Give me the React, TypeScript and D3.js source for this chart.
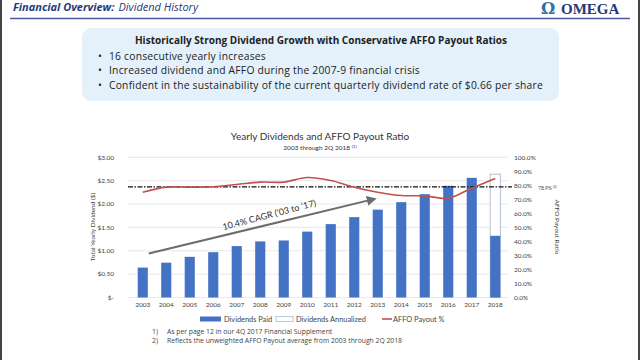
import React from 'react';
import * as d3 from 'd3';

const years = ['2003','2004','2005','2006','2007','2008','2009','2010','2011','2012','2013','2014','2015','2016','2017','2018'];
const dividendsPaid = [0.64,0.745,0.87,0.97,1.10,1.20,1.22,1.41,1.57,1.72,1.88,2.04,2.21,2.39,2.56,1.32];
const dividendsAnnualized = [null,null,null,null,null,null,null,null,null,null,null,null,null,null,null,2.64];
const affoPayout = [0.751,0.787,0.787,0.79,0.806,0.823,0.823,0.856,0.834,0.787,0.751,0.727,0.725,0.708,0.78,0.849];
const affoAverage = 0.789;
const leftTicks = [0,0.5,1,1.5,2,2.5,3];
const leftTickLabels = ['$-','$0.50','$1.00','$1.50','$2.00','$2.50','$3.00'];
const rightTicks = [0,0.1,0.2,0.3,0.4,0.5,0.6,0.7,0.8,0.9,1.0];
const bullets = [
  '16 consecutive yearly increases',
  'Increased dividend and AFFO during the 2007-9 financial crisis',
  'Confident in the sustainability of the current quarterly dividend rate of $0.66 per share',
];
const footnotes = [
  'As per page 12 in our 4Q 2017 Financial Supplement',
  'Reflects the unweighted AFFO Payout average from 2003 through 2Q 2018',
];
const cagrStart = { year: '2003', value: 0.94 };
const cagrEnd = { year: '2013', value: 2.11 };

const FONT = 'Lato, "Open Sans", sans-serif';
const WIDE = '"Open Sans", Lato, sans-serif';
const BLUE = '#4472C4';
const RED = '#C0504D';

export default function App() {
  const x = d3.scaleBand<string>().domain(years).range([131, 507]).paddingInner(0.57).paddingOuter(0.285);
  const yL = d3.scaleLinear().domain([0, 3]).range([297.5, 157.3]);
  const yR = d3.scaleLinear().domain([0, 1]).range([297.5, 157.3]);
  const cx = (yr: string) => (x(yr) as number) + x.bandwidth() / 2;

  const line = d3.line<number>()
    .x((_, i) => cx(years[i]))
    .y((d) => yR(d))
    .curve(d3.curveCatmullRom.alpha(0.5));

  const ax1 = cx(cagrStart.year) + 6, ay1 = yL(cagrStart.value);
  const ax2 = cx(cagrEnd.year) - 3, ay2 = yL(cagrEnd.value);
  const ang = Math.atan2(ay2 - ay1, ax2 - ax1) * 180 / Math.PI;

  return (
    <div style={{ position: 'fixed', left: 0, top: 0, width: 640, height: 360, background: '#fff' }}>
      <svg width={640} height={360} style={{ display: 'block' }} fontFamily={FONT}>
        <defs>
          <marker id="arr" viewBox="0 0 10 10" refX="8" refY="5" markerWidth="5" markerHeight="5" orient="auto">
            <path d="M0,0 L10,5 L0,10 z" fill="#6d6d6d" />
          </marker>
        </defs>
        <rect x={0} y={0} width={640} height={360} fill="#fff" />
        <line x1={1} y1={0} x2={1} y2={360} stroke="#444" strokeWidth={2} />
        <line x1={639} y1={0} x2={639} y2={360} stroke="#444" strokeWidth={2} />

        {/* header */}
        <text x={13} y={10.5} fontSize={11} fontStyle="italic" fill="#1f3a7a" fontFamily={WIDE}>
          <tspan fontWeight="bold">Financial Overview:</tspan>
          <tspan dx={4}>Dividend History</tspan>
        </text>
        <line x1={10} y1={18.5} x2={630} y2={18.5} stroke="#4a5a9e" strokeWidth={1.6} />
        <text x={541} y={13.5} fontSize={16} fontWeight="bold" fill="#2d6fb0" fontFamily='"DejaVu Serif", serif'>Ω</text>
        <text x={561} y={13.5} fontSize={15} fontWeight="bold" fill="#1f3a7a" fontFamily='"Liberation Serif", serif'>OMEGA</text>

        {/* box */}
        <rect x={82} y={28} width={477} height={73} rx={9} fill="#e4f1fb" />
        <text x={321} y={44} textAnchor="middle" fontSize={10} fontWeight="bold" fill="#222" fontFamily={WIDE}>Historically Strong Dividend Growth with Conservative AFFO Payout Ratios</text>
        {bullets.map((b, i) => (
          <g key={i}>
            <text x={98} y={59.5 + i * 14.6} fontSize={10.3} fill="#222" fontFamily={WIDE}>•</text>
            <text x={109} y={59.5 + i * 14.6} fontSize={10.3} letterSpacing={0.22} fill="#222" fontFamily={WIDE}>{b}</text>
          </g>
        ))}

        {/* chart titles */}
        <text x={320} y={140} textAnchor="middle" fontSize={10} fill="#333">Yearly Dividends and AFFO Payout Ratio</text>
        <text x={320} y={150} textAnchor="middle" fontSize={6.5} fill="#333">2003 through 2Q 2018 <tspan fontSize={4.5} dy={-2}>(1)</tspan></text>

        {/* grid */}
        {leftTicks.map((t, i) => (
          <g key={i}>
            <line x1={128} x2={508} y1={yL(t)} y2={yL(t)} stroke="#e3e3e3" strokeWidth={0.8} />
            <text x={114} y={yL(t) + 2.3} textAnchor="end" fontSize={6.5} fill="#444">{leftTickLabels[i]}</text>
          </g>
        ))}
        {rightTicks.map((t, i) => (
          <text key={i} x={514} y={yR(t) + 2.3} fontSize={6.5} fill="#444">{(t * 100).toFixed(1)}%</text>
        ))}
        <text transform={`translate(95,227) rotate(-90)`} textAnchor="middle" fontSize={6.5} fill="#444">Total Yearly Dividend ($)</text>
        <text transform={`translate(555,227) rotate(90)`} textAnchor="middle" fontSize={6.5} fill="#444">AFFO Payout Ratio</text>

        {/* annualized */}
        {dividendsAnnualized.map((v, i) => v == null ? null : (
          <rect key={'a' + i} x={x(years[i])} y={yL(v)} width={x.bandwidth()} height={yL(0) - yL(v)} fill="#fff" stroke="#9fb0c8" strokeWidth={0.8} />
        ))}
        {/* bars */}
        {dividendsPaid.map((v, i) => (
          <rect key={i} x={x(years[i])} y={yL(v)} width={x.bandwidth()} height={yL(0) - yL(v)} fill={BLUE} />
        ))}

        {/* average */}
        <line x1={128} x2={512} y1={yR(affoAverage)} y2={yR(affoAverage)} stroke="#111" strokeWidth={1.2} strokeDasharray="5,1.5,1.5,1.5" />
        <text x={538} y={yR(affoAverage) + 3} fontSize={5} fill="#444">{(affoAverage * 100).toFixed(1)}%<tspan fontSize={3.5} dx={1} dy={-2}>(2)</tspan></text>

        {/* AFFO line */}
        <path d={line(affoPayout) || ''} fill="none" stroke={RED} strokeWidth={1.6} />

        {/* year labels */}
        {years.map((yr) => (
          <text key={yr} x={cx(yr)} y={307} textAnchor="middle" fontSize={6.5} fill="#444">{yr}</text>
        ))}

        {/* CAGR arrow */}
        <line x1={ax1} y1={ay1} x2={ax2} y2={ay2} stroke="#6d6d6d" strokeWidth={2} markerEnd="url(#arr)" />
        <text transform={`translate(270,218) rotate(${ang - 1})`} textAnchor="middle" fontSize={9} fill="#333">10.4% CAGR (‘03 to ‘17)</text>

        {/* legend */}
        <rect x={200} y={316.5} width={21} height={5} fill={BLUE} />
        <text x={224} y={321.5} fontSize={7.4} fill="#444">Dividends Paid</text>
        <rect x={276} y={316.5} width={17} height={5} fill="#fff" stroke="#9fb0c8" strokeWidth={0.7} />
        <text x={296} y={321.5} fontSize={7.4} fill="#444">Dividends Annualized</text>
        <line x1={382} x2={392} y1={319} y2={319} stroke={RED} strokeWidth={1.6} />
        <text x={393} y={321.5} fontSize={7.4} fill="#444">AFFO Payout %</text>

        {/* footnotes */}
        {footnotes.map((f, i) => (
          <g key={i}>
            <text x={152} y={334 + i * 9} fontSize={6.8} fill="#444" fontFamily={WIDE}>{i + 1})</text>
            <text x={167} y={334 + i * 9} fontSize={6.8} fill="#444" fontFamily={WIDE}>{f}</text>
          </g>
        ))}
      </svg>
    </div>
  );
}
